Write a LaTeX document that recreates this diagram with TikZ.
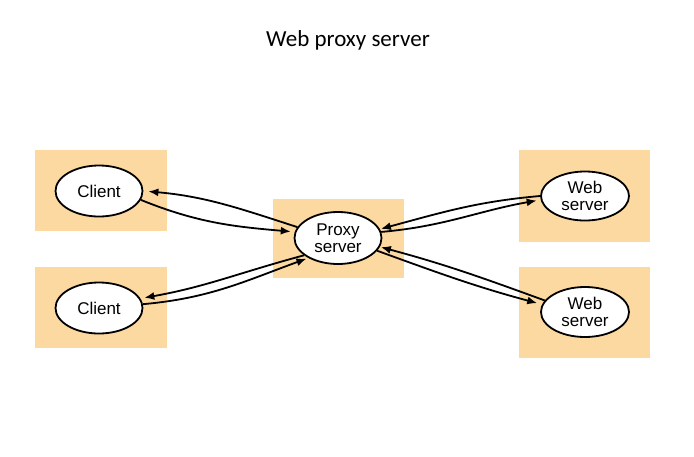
\documentclass[tikz,border=0pt]{standalone}
\usepackage{fontspec}
\setmainfont{Liberation Sans}
\newfontfamily\titlefont{Carlito}
\usetikzlibrary{shapes.geometric,arrows.meta}
\definecolor{boxfill}{RGB}{252,217,160}
\begin{document}
\begin{tikzpicture}[x=1pt,y=-1pt,
  back box/.style={rectangle,fill=boxfill,inner sep=0pt},
  host node/.style={ellipse,draw,line width=1.8pt,fill=white,inner sep=0pt,
    minimum width=87pt,minimum height=51pt,align=center,
    font=\fontsize{17}{17}\selectfont},
  link/.style={line width=1.8pt,-{Latex[length=10pt,width=8pt]},shorten >=1pt}]

  \useasboundingbox (0,0) rectangle (694,456);

  \node[font=\titlefont\fontsize{23}{26}\selectfont] (title) at (348,40) {Web proxy server};

  \node[back box,minimum width=132pt,minimum height=81pt] (b1) at (101,190.5) {};
  \node[back box,minimum width=132pt,minimum height=81pt] (b2) at (101,307.5) {};
  \node[back box,minimum width=131pt,minimum height=79pt] (b3) at (338.5,238.5) {};
  \node[back box,minimum width=131pt,minimum height=92pt] (b4) at (584.5,196) {};
  \node[back box,minimum width=131pt,minimum height=91pt] (b5) at (584.5,312.5) {};

  \node[host node] (client1) at (99,191) {Client};
  \node[host node] (client2) at (99,308) {Client};
  \node[host node,minimum height=52pt] (proxy) at (338,238) {Proxy\\server};
  \node[host node,minimum width=88pt,minimum height=49pt] (web1) at (585,196) {Web\\server};
  \node[host node,minimum width=88pt,minimum height=50pt] (web2) at (585,312) {Web\\server};

  \path[link]
   (proxy.165) edge[out=162,in=-5,shorten >=5pt] (client1.0)
   (client1.-12) edge[out=-22,in=175,shorten >=4pt] (proxy.172)
   (proxy.-153) edge[out=195,in=10,shorten >=4pt] (client2.13)
   (client2.5) edge[out=5,in=200,shorten >=2pt] (proxy.-146)
   (web1.180) edge[out=185,in=15,shorten >=1pt] (proxy.12)
   (proxy.8) edge[out=5,in=190,shorten >=4pt] (web1.185)
   (web2.164) edge[out=160,in=-15,shorten >=1pt] (proxy.-12)
   (proxy.-18) edge[out=-20,in=165,shorten >=5pt] (web2.170);
\end{tikzpicture}
\end{document}
